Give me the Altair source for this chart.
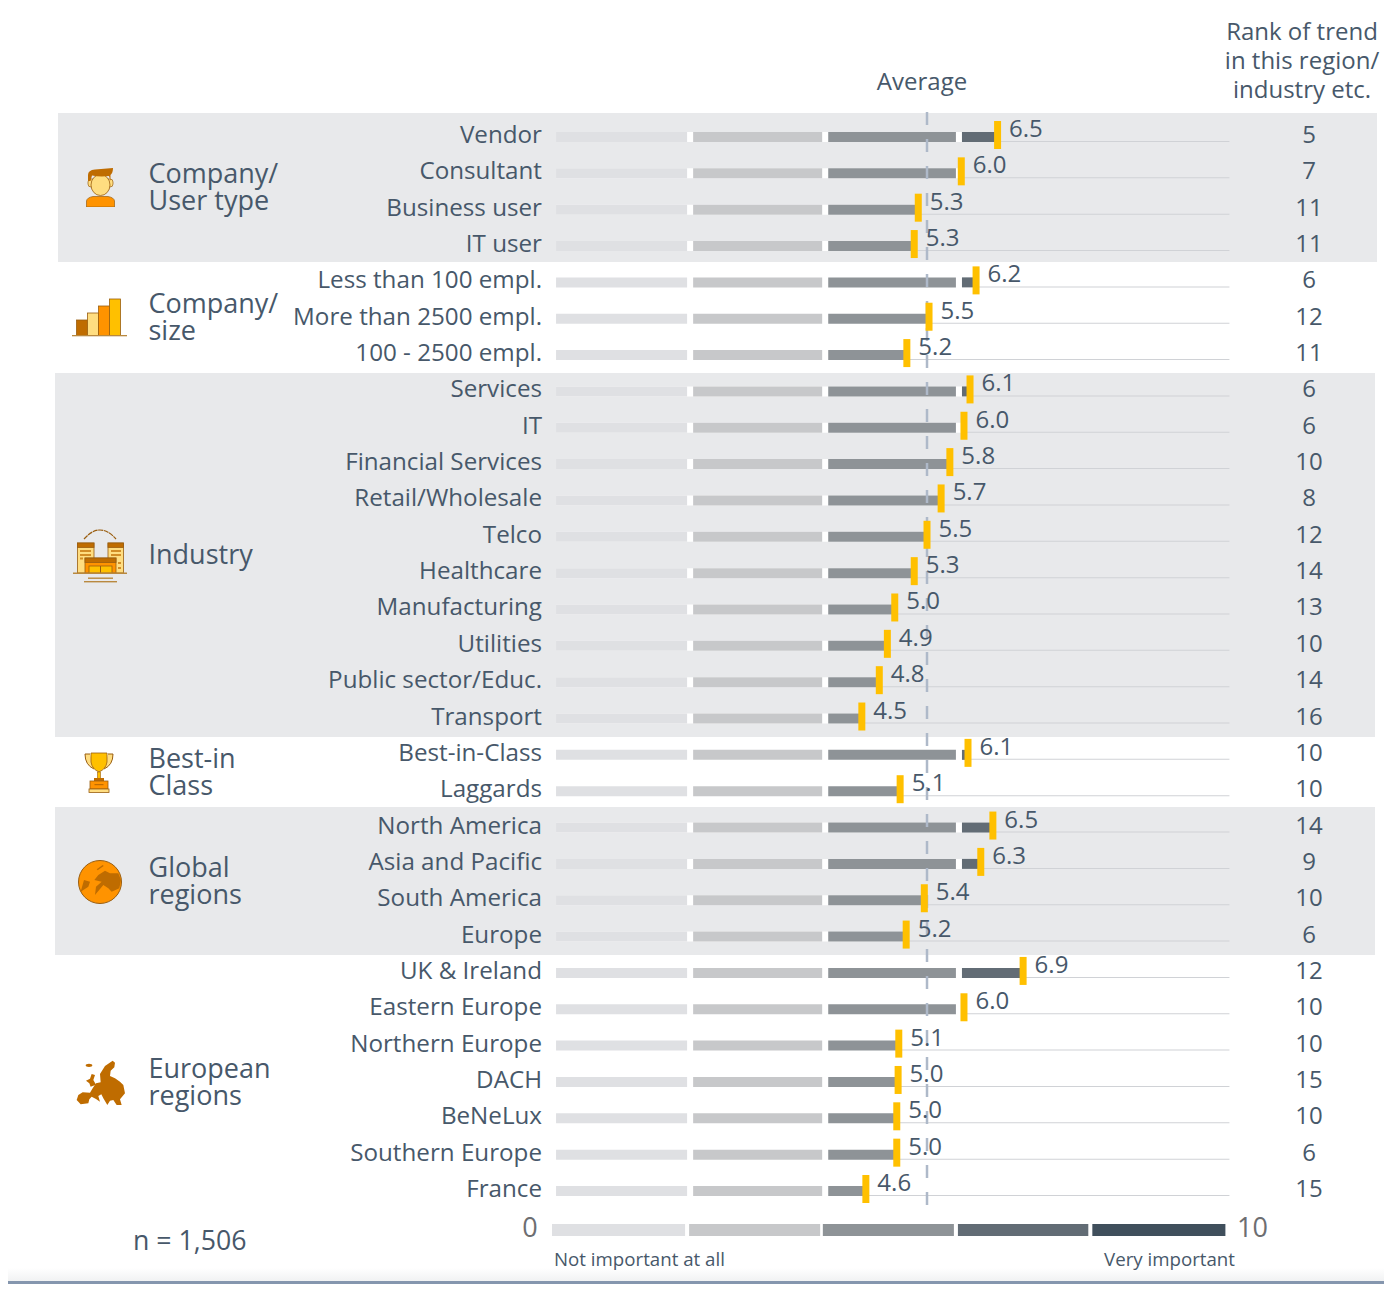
import base64
import altair as alt
import pandas as pd

rows = ["Vendor", "Consultant", "Business user", "IT user", "Less than 100 empl.", "More than 2500 empl.",
        "100 - 2500 empl.", "Services", "IT", "Financial Services", "Retail/Wholesale", "Telco", "Healthcare",
        "Manufacturing", "Utilities", "Public sector/Educ.", "Transport", "Best-in-Class", "Laggards",
        "North America", "Asia and Pacific", "South America", "Europe", "UK & Ireland", "Eastern Europe",
        "Northern Europe", "DACH", "BeNeLux", "Southern Europe", "France"]
scores = [6.57, 6.03, 5.39, 5.33, 6.25, 5.55, 5.22, 6.16, 6.07, 5.86, 5.73, 5.52, 5.33, 5.04, 4.93, 4.81, 4.55,
          6.13, 5.12, 6.50, 6.32, 5.48, 5.21, 6.95, 6.07, 5.10, 5.09, 5.07, 5.07, 4.61]
labels = ["6.5", "6.0", "5.3", "5.3", "6.2", "5.5", "5.2", "6.1", "6.0", "5.8", "5.7", "5.5", "5.3", "5.0", "4.9",
          "4.8", "4.5", "6.1", "5.1", "6.5", "6.3", "5.4", "5.2", "6.9", "6.0", "5.1", "5.0", "5.0", "5.0", "4.6"]
ranks = [5, 7, 11, 11, 6, 12, 11, 6, 6, 10, 8, 12, 14, 13, 10, 14, 16, 10, 10, 14, 9, 10, 6, 12, 10, 10, 15, 10, 6, 15]
average = 5.52
seg_starts = [0.0, 2.04, 4.05, 6.04, 8.03]
seg_ends = [1.95, 3.96, 5.95, 7.95, 9.95]
seg_colors = ["#DFE0E3", "#C7C8CA", "#8E9397", "#626C75", "#404F5C"]
legend_starts = [-0.06, 1.98, 3.97, 5.98, 7.98]
legend_ends = [1.92, 3.93, 5.92, 7.92, 9.96]

TEXT = "#47586A"
FONT = "Open Sans"
GREY = "#E8E9EB"


def px(v):
    return v - 8


def svg_uri(w, h, body):
    s = f'<svg xmlns="http://www.w3.org/2000/svg" width="{w}" height="{h}" viewBox="0 0 {w} {h}">{body}</svg>'
    return "data:image/svg+xml;base64," + base64.b64encode(s.encode()).decode()


B, O, Y, L, S = "#BF6C00", "#FF9300", "#FFC000", "#FFDD80", "#9A5E10"
icons = [
    (86, 168, 29, 39, f'''<path d="M0.5 39V33Q1 29.500 7 28.500H22Q28 29.500 28.500 33V39Z" fill="{O}" stroke="{S}" stroke-width=".7"/>
<rect x="2" y="11" width="25" height="8" rx="3" fill="{L}" stroke="{S}" stroke-width=".7"/>
<ellipse cx="14.500" cy="17" rx="9.500" ry="10.500" fill="{L}" stroke="{S}" stroke-width=".8"/>
<path d="M2 13V7Q2 2 9 1.500L27 0Q27 5 24.500 7V13L23 8Q14 9 6 7.500L4.500 13Z" fill="{B}"/>'''),
    (72, 298, 55, 39, f'''<g stroke="{S}" stroke-width=".8"><rect x="4.500" y="22" width="11" height="15.500" fill="{B}"/>
<rect x="15.500" y="15" width="11" height="22.500" fill="{L}"/><rect x="26.500" y="8" width="11" height="29.500" fill="{O}"/>
<rect x="37.500" y="1" width="11" height="36.500" fill="{Y}"/></g><rect y="37" width="55" height="1.300" fill="#B9893F"/>'''),
    (73, 529, 54, 54, f'''<path d="M11 10Q27 -8 43 10" fill="none" stroke="{S}" stroke-width="1.200" stroke-dasharray="5 .7"/>
<g stroke="{S}" stroke-width=".8"><rect x="4.500" y="14" width="16.500" height="30" fill="{L}"/><rect x="35" y="14" width="15.500" height="30" fill="{L}"/>
<rect x="4.500" y="14" width="16.500" height="4.500" fill="{B}"/><rect x="35" y="14" width="15.500" height="4.500" fill="{B}"/>
<rect x="12" y="29" width="31" height="15" fill="{O}"/><rect x="12" y="29" width="31" height="4.500" fill="{B}"/><rect x="16" y="37" width="23" height="7" fill="{Y}"/></g>
<path d="M27.500 37V44" stroke="{S}"/><rect x="0" y="43.500" width="54" height="1.500" fill="#B9893F"/>
<rect x="15" y="48.500" width="25" height="1.400" fill="#B9893F"/><rect x="11" y="52" width="33" height="1.400" fill="#B9893F"/>
<g fill="{B}" opacity=".7"><rect x="7" y="21" width="11" height="2"/><rect x="7" y="25" width="11" height="2"/><rect x="7" y="28.500" width="3" height="2"/>
<rect x="38" y="21" width="10" height="2"/><rect x="38" y="25" width="10" height="2"/><rect x="45" y="33" width="3" height="2"/><rect x="45" y="38" width="3" height="2"/></g>'''),
    (84, 752, 30, 41, f'''<path d="M6 2H1Q1 13 10 17M24 2H29Q29 13 20 17" fill="{L}" stroke="{S}" stroke-width="1"/>
<path d="M7 1H23V10Q22 17 15 20Q8 17 7 10Z" fill="{Y}" stroke="{S}" stroke-width=".8"/>
<rect x="13.500" y="20" width="3" height="7" fill="{Y}" stroke="{S}" stroke-width=".6"/>
<rect x="10" y="26" width="10" height="3" fill="{B}"/><rect x="6" y="29" width="18" height="8" fill="{O}" stroke="{S}" stroke-width=".8"/>
<rect x="10.500" y="32" width="9" height="1.200" fill="{B}"/><rect x="5" y="37" width="20" height="3.500" fill="{L}" stroke="{S}" stroke-width=".8"/>'''),
    (77, 859, 46, 46, f'''<circle cx="23" cy="23" r="21.500" fill="{O}" stroke="{S}" stroke-width="1"/>
<g fill="{B}" transform="translate(-17 -119) scale(.3333)">
<path d="M110 388L128 375L131 378L113 391Z"/>
<path d="M115 405L135 392L150 400L175 400L183 420L178 445L155 455L145 445L130 435L105 465L108 440L125 425L103 420Z"/>
<path d="M62 455L72 420L90 425L85 440Z"/></g>'''),
    (75, 1059, 51, 48, f'''<g fill="{B}" transform="translate(-15 -9) scale(.3333)">
<path d="M50 150L55 135L68 127L90 128L98 115L108 100L122 97L120 72L135 48L158 32L165 38L163 52L152 62L150 78L165 85L180 95L190 105L195 130L180 148L185 165L170 165L160 150L150 152L142 165L130 145L124 133L115 138L120 155L108 147L95 140L88 148L85 160L62 163Z"/>
<path d="M78 92L90 86L95 72L105 75L100 90L108 104L92 110L88 100Z"/><ellipse cx="87" cy="46" rx="10" ry="5"/></g>'''),
]

group_bands = [(58, 1377, 113, 262), (55, 1375, 373, 737), (55, 1375, 807, 955)]
group_lines = [("Company/", 173), ("User type", 200), ("Company/", 303), ("size", 330), ("Industry", 554),
               ("Best-in", 758), ("Class", 785), ("Global", 867), ("regions", 894), ("European", 1068), ("regions", 1095)]

X = alt.Scale(domain=[-8.155, 12.32], range=[0, 1376], nice=False, zero=False)
R = alt.Scale(type="point", domain=rows, range=[129, 1183], padding=0)
xe = alt.X("v:Q", axis=None, scale=X)
ye = alt.Y("row:N", axis=None, scale=R, sort=None)

df = pd.DataFrame({"row": rows, "score": scores, "label": labels, "rank": ranks})
segs = []
for r, s in zip(rows, scores):
    for a, b, c in zip(seg_starts, seg_ends, seg_colors):
        if s > a:
            segs.append({"row": r, "v": a, "v2": min(s, b), "c": c})
segs = pd.DataFrame(segs)
leg = pd.DataFrame({"v": legend_starts, "v2": legend_ends, "c": seg_colors})
one = pd.DataFrame({"a": [0]})


def label(text, x, y, size=24, align="left", color=TEXT):
    return alt.Chart(pd.DataFrame({"t": [text]})).mark_text(
        font=FONT, fontSize=size, align=align, baseline="middle", color=color
    ).encode(x=alt.value(px(x)), y=alt.value(px(y + 1.5)), text="t:N")


layers = []
grad = alt.Gradient(gradient="linear", x1=0, x2=0, y1=0, y2=1,
                    stops=[alt.GradientStop(color="#FFFFFF", offset=0), alt.GradientStop(color="#F1F2F3", offset=1)])
layers.append(alt.Chart(one).mark_rect(color=grad).encode(
    x=alt.value(0), x2=alt.value(1376), y=alt.value(px(1268)), y2=alt.value(px(1281))))
layers.append(alt.Chart(one).mark_rect(color="#8596AE").encode(
    x=alt.value(0), x2=alt.value(1376), y=alt.value(px(1281)), y2=alt.value(px(1284))))
for x0, x1, y0, y1 in group_bands:
    layers.append(alt.Chart(one).mark_rect(color=GREY).encode(
        x=alt.value(px(x0)), x2=alt.value(px(x1)), y=alt.value(px(y0)), y2=alt.value(px(y1))))

# thin baseline of each row, from the marker to the end of the scale
layers.append(alt.Chart(df.assign(v2=10.02)).mark_bar(size=1, color="#D0D2D6", orient="horizontal", yOffset=4.5).encode(
    x=alt.X("score:Q", axis=None, scale=X), x2="v2:Q", y=ye))
# white track that shows through the gaps between the segments
layers.append(alt.Chart(df.assign(v0=0.0)).mark_bar(size=10, color="#FFFFFF", orient="horizontal").encode(
    x=alt.X("v0:Q", axis=None, scale=X), x2="score:Q", y=ye))
layers.append(alt.Chart(segs).mark_bar(size=10, orient="horizontal").encode(
    x=xe, x2="v2:Q", y=ye, color=alt.Color("c:N", scale=None)))
# average line
layers.append(alt.Chart(pd.DataFrame({"v": [average]})).mark_rule(
    color="#AEB9C9", strokeWidth=2.5, strokeDash=[13, 14]).encode(
    x=xe, y=alt.value(px(112)), y2=alt.value(px(1217))))
# markers
layers.append(alt.Chart(df).mark_tick(color="#FFC000", thickness=7, size=28, orient="vertical", yOffset=-2, opacity=1).encode(
    x=alt.X("score:Q", axis=None, scale=X), y=ye))
# text columns
layers.append(alt.Chart(df).mark_text(font=FONT, fontSize=24.2, align="right", baseline="middle", color=TEXT, dy=-1).encode(
    x=alt.value(px(542)), y=ye, text="row:N"))
layers.append(alt.Chart(df).mark_text(font=FONT, fontSize=24, align="left", baseline="middle", color=TEXT, dx=11.5, dy=-7).encode(
    x=alt.X("score:Q", axis=None, scale=X), y=ye, text="label:N"))
layers.append(alt.Chart(df).mark_text(font=FONT, fontSize=24, align="center", baseline="middle", color=TEXT, dy=-1).encode(
    x=alt.value(px(1309)), y=ye, text="rank:N"))
# legend
layers.append(alt.Chart(leg).mark_rect().encode(
    x=xe, x2="v2:Q", y=alt.value(px(1224)), y2=alt.value(px(1236)), color=alt.Color("c:N", scale=None)))
for t, y in group_lines:
    layers.append(label(t, 148.5, y, size=27))
layers += [
    label("Rank of trend", 1302, 31, align="center"),
    label("in this region/", 1302, 60, align="center"),
    label("industry etc.", 1302, 89, align="center"),
    label("Average", 922, 81, align="center"),
    label("n = 1,506", 133, 1240, size=26.7),
    label("0", 530, 1227, size=27, align="center", color="#6D6E71"),
    label("10", 1237, 1227, size=27, color="#6D6E71"),
    label("Not important at all", 554, 1258, size=18.7),
    label("Very important", 1104, 1258, size=18.7),
]
for ix, iy, w, h, body in icons:
    layers.append(alt.Chart(pd.DataFrame({"u": [svg_uri(w, h, body)]})).mark_image(
        width=w, height=h, align="left", baseline="top", aspect=False).encode(
        x=alt.value(px(ix)), y=alt.value(px(iy)), url="u:N"))

chart = alt.layer(*layers).resolve_scale(color="independent").properties(
    width=1376, height=1276, padding=0, autosize="none"
).configure_view(stroke=None)
chart.save("out.html", embed_options={"renderer": "svg", "actions": False})
